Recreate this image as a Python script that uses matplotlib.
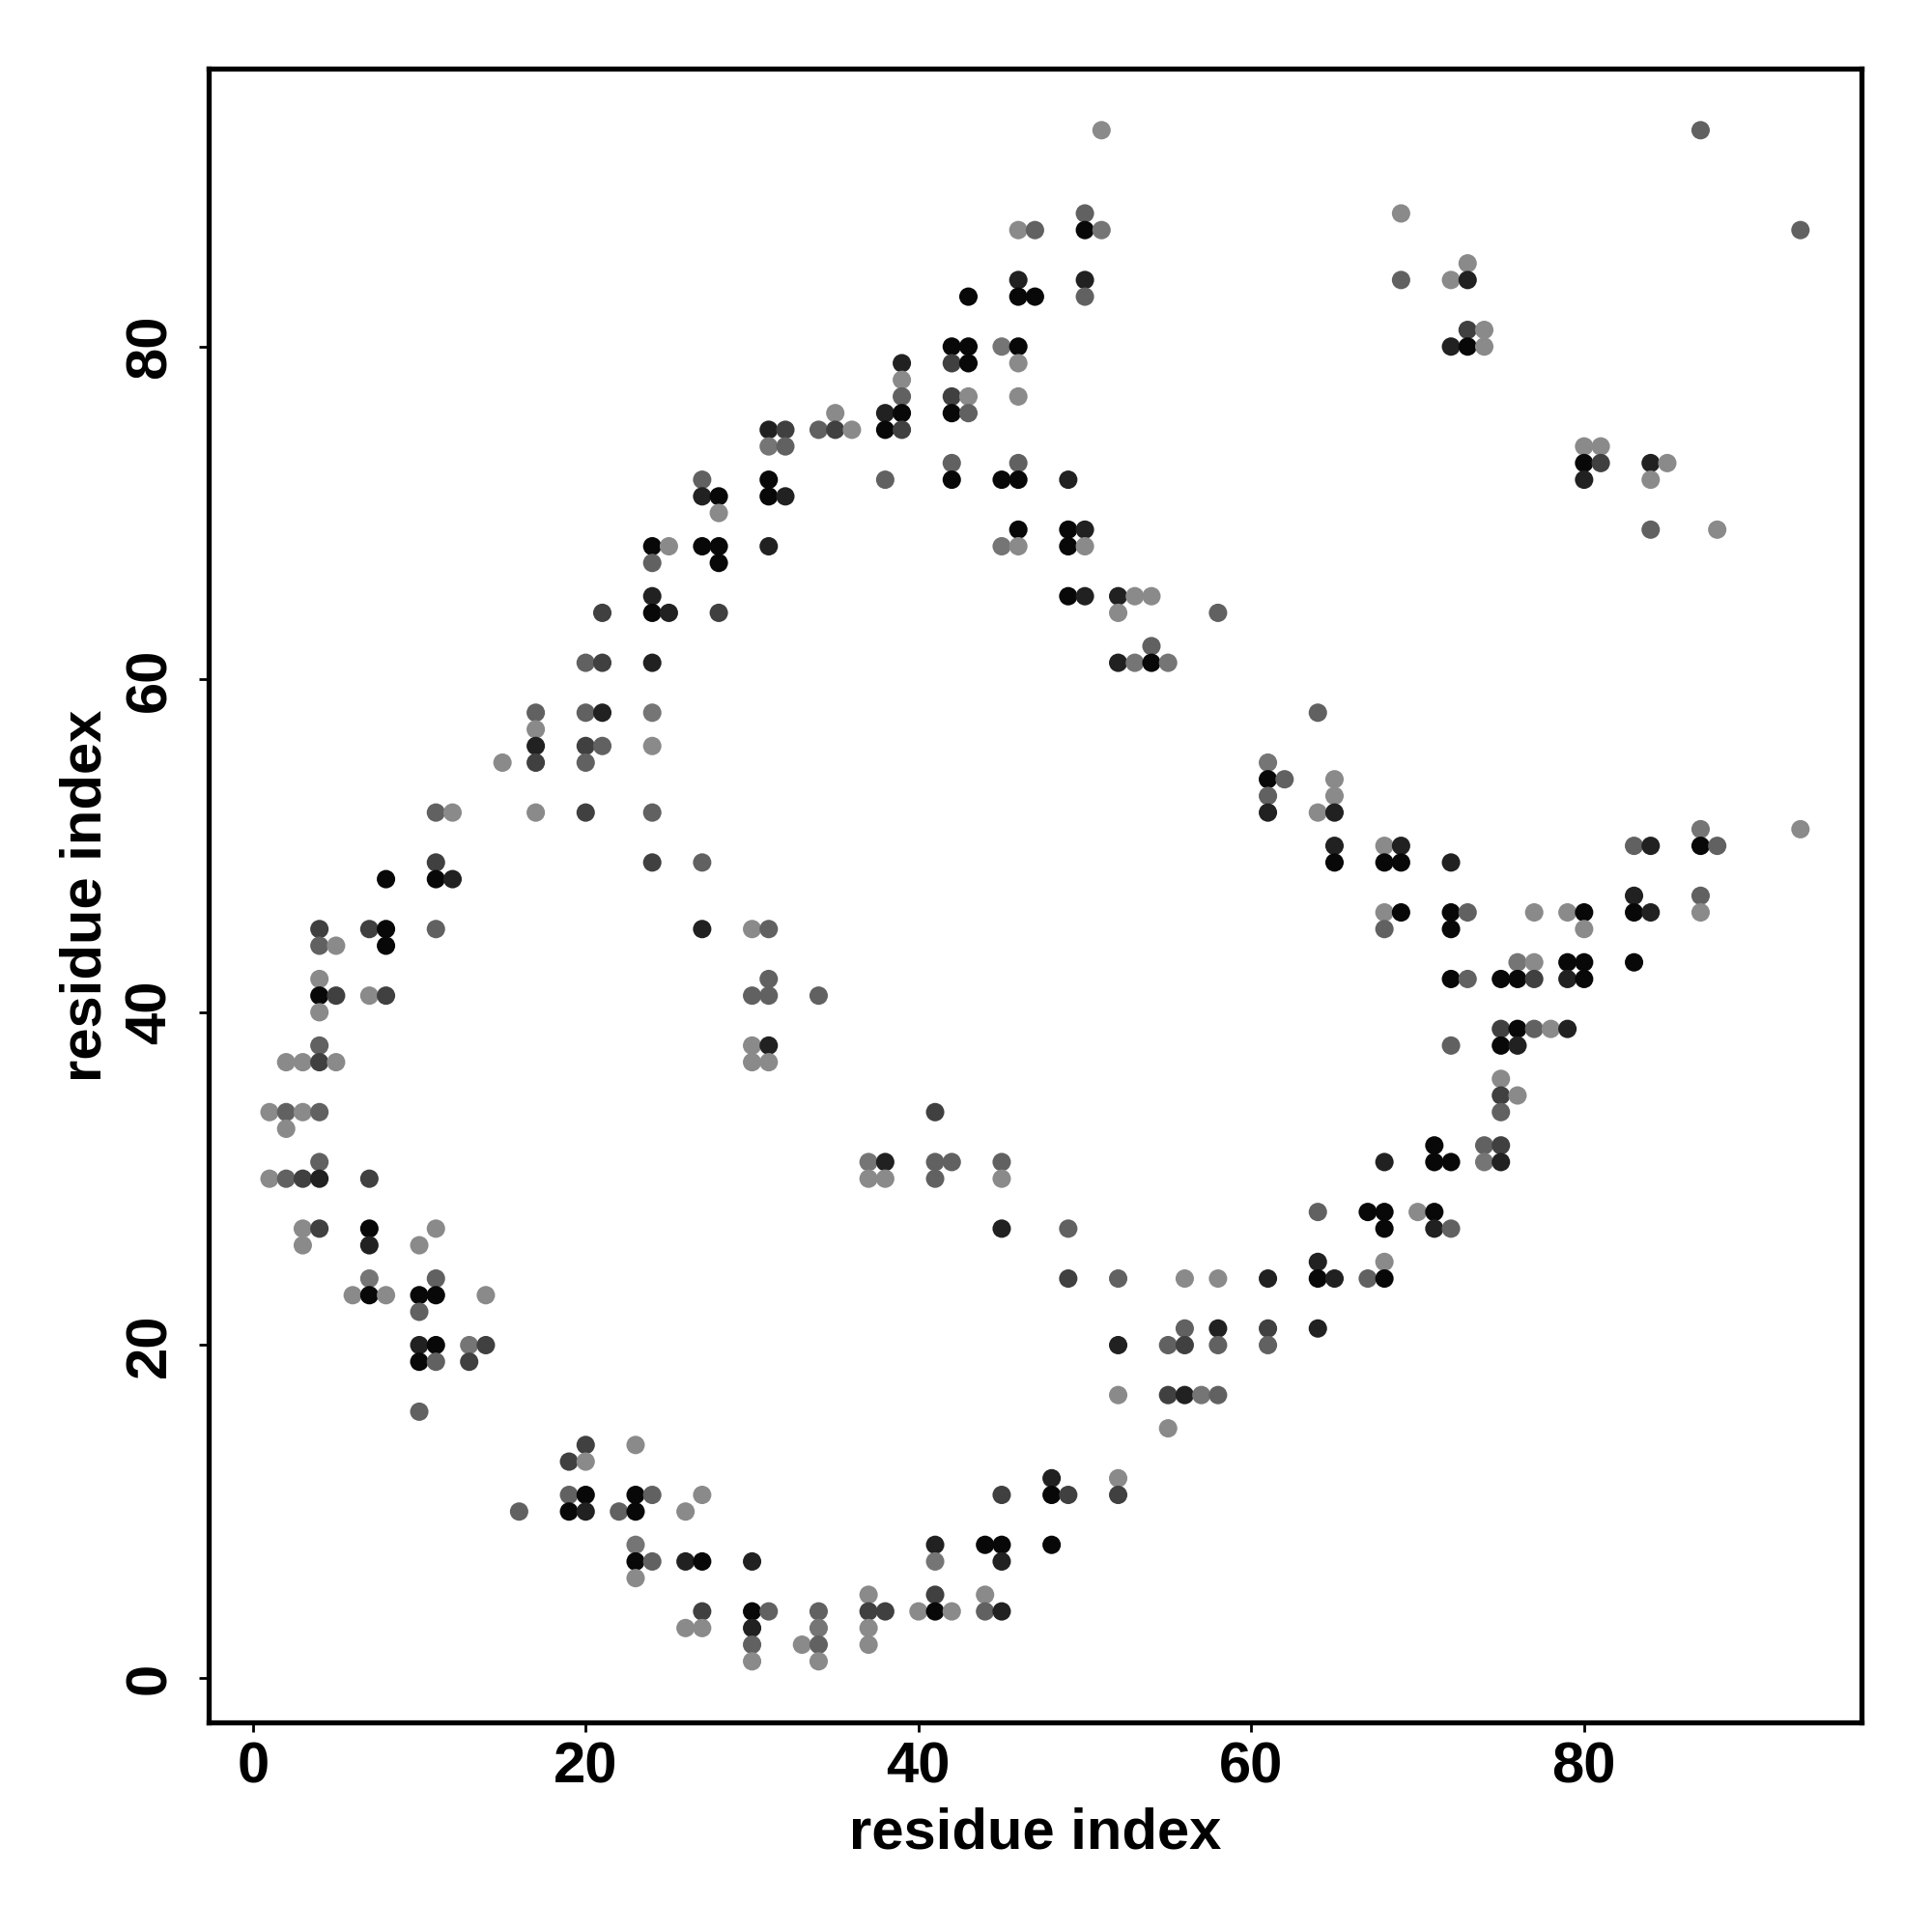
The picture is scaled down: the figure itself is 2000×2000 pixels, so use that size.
import matplotlib
matplotlib.use("Agg")
import matplotlib.pyplot as plt

# shade codes: grey level of each contact point (0 = black)
K, D, DM, M, ML, L = 0.03, 0.13, 0.25, 0.38, 0.46, 0.54

# contact points (residue i, residue j, grey level)
contacts = [
    (1, 34, L), (1, 30, L),
    (2, 37, L), (2, 34, M), (2, 33, L), (2, 30, M),
    (3, 37, L), (3, 34, L), (3, 30, DM), (3, 27, L), (3, 26, L),
    (4, 45, DM), (4, 44, M), (4, 42, L), (4, 41, K), (4, 40, L), (4, 38, M), (4, 37, DM),
    (4, 34, M), (4, 31, M), (4, 30, D), (4, 27, DM),
    (5, 44, L), (5, 41, DM), (5, 37, L),
    (6, 23, L),
    (7, 45, DM), (7, 41, L), (7, 30, DM), (7, 27, K), (7, 26, D), (7, 24, ML), (7, 23, K),
    (8, 48, K), (8, 45, K), (8, 44, K), (8, 41, DM), (8, 23, L),
    (10, 26, L), (10, 23, K), (10, 22, M), (10, 20, D), (10, 19, K), (10, 16, M),
    (11, 52, M), (11, 49, DM), (11, 48, K), (11, 45, M), (11, 27, L), (11, 24, M),
    (11, 23, K), (11, 20, K), (11, 19, M),
    (12, 52, L), (12, 48, D),
    (13, 20, ML), (13, 19, DM),
    (14, 23, L), (14, 20, DM),
    (15, 55, L),
    (16, 10, M),
    (17, 58, M), (17, 57, L), (17, 56, D), (17, 55, DM), (17, 52, L),
    (19, 13, DM), (19, 11, M), (19, 10, K),
    (20, 61, M), (20, 58, M), (20, 56, DM), (20, 55, M), (20, 52, DM), (20, 14, DM),
    (20, 13, L), (20, 11, K), (20, 10, D),
    (21, 64, DM), (21, 61, DM), (21, 58, D), (21, 56, M),
    (22, 10, M),
    (23, 14, L), (23, 11, K), (23, 10, K), (23, 8, ML), (23, 7, K), (23, 6, L),
    (24, 68, K), (24, 67, M), (24, 65, D), (24, 64, K), (24, 61, D), (24, 58, ML),
    (24, 56, L), (24, 52, M), (24, 49, DM), (24, 11, M), (24, 7, M),
    (25, 68, L), (25, 64, D),
    (26, 10, L), (26, 7, D), (26, 3, L),
    (27, 72, M), (27, 71, D), (27, 68, K), (27, 49, M), (27, 45, D), (27, 11, L),
    (27, 7, K), (27, 4, DM), (27, 3, L),
    (28, 71, K), (28, 70, L), (28, 68, K), (28, 67, K), (28, 64, DM),
    (30, 45, L), (30, 41, M), (30, 38, L), (30, 37, L), (30, 7, D), (30, 4, K),
    (30, 3, D), (30, 2, M), (30, 1, L),
    (31, 75, D), (31, 74, ML), (31, 72, K), (31, 71, K), (31, 68, D), (31, 45, M),
    (31, 42, M), (31, 41, M), (31, 38, D), (31, 37, L), (31, 4, M),
    (32, 75, DM), (32, 74, M), (32, 71, D),
    (33, 2, L),
    (34, 75, M), (34, 41, M), (34, 4, M), (34, 3, ML), (34, 2, M), (34, 1, L),
    (35, 76, L), (35, 75, DM),
    (36, 75, L),
    (37, 31, ML), (37, 30, L), (37, 5, L), (37, 4, DM), (37, 3, L), (37, 2, L),
    (38, 76, D), (38, 75, K), (38, 72, M), (38, 31, D), (38, 30, L), (38, 4, DM),
    (39, 79, D), (39, 78, L), (39, 77, M), (39, 76, K), (39, 75, DM),
    (40, 4, L),
    (41, 34, DM), (41, 31, M), (41, 30, M), (41, 8, D), (41, 7, ML), (41, 5, DM), (41, 4, K),
    (42, 80, K), (42, 79, DM), (42, 77, DM), (42, 76, K), (42, 73, M), (42, 72, K),
    (42, 31, M), (42, 4, L),
    (43, 83, K), (43, 80, K), (43, 79, K), (43, 77, L), (43, 76, M),
    (44, 8, K), (44, 5, L), (44, 4, M),
    (45, 80, ML), (45, 72, K), (45, 68, ML), (45, 31, M), (45, 30, L), (45, 27, D),
    (45, 11, DM), (45, 8, K), (45, 7, D), (45, 4, D),
    (46, 87, L), (46, 84, D), (46, 83, K), (46, 80, K), (46, 79, L), (46, 77, L),
    (46, 73, M), (46, 72, K), (46, 69, K), (46, 68, L),
    (47, 87, M), (47, 83, K),
    (48, 12, D), (48, 11, K), (48, 8, K),
    (49, 72, D), (49, 69, K), (49, 68, K), (49, 65, K), (49, 27, M), (49, 24, DM), (49, 11, DM),
    (50, 88, M), (50, 87, K), (50, 84, D), (50, 83, M), (50, 69, D), (50, 68, L), (50, 65, D),
    (51, 93, L), (51, 87, ML),
    (52, 65, D), (52, 64, L), (52, 61, D), (52, 24, M), (52, 20, D), (52, 17, L),
    (52, 12, L), (52, 11, DM),
    (53, 65, L), (53, 61, ML),
    (54, 65, L), (54, 62, M), (54, 61, K),
    (55, 61, ML), (55, 20, M), (55, 17, DM), (55, 15, L),
    (56, 24, L), (56, 21, M), (56, 20, DM), (56, 17, D),
    (57, 17, ML),
    (58, 64, M), (58, 24, L), (58, 21, D), (58, 20, M), (58, 17, M),
    (61, 55, ML), (61, 54, K), (61, 53, M), (61, 52, D), (61, 24, D), (61, 21, DM), (61, 20, M),
    (62, 54, M),
    (64, 58, M), (64, 52, L), (64, 28, M), (64, 25, D), (64, 24, K), (64, 21, D),
    (65, 54, L), (65, 53, L), (65, 52, D), (65, 50, D), (65, 49, K), (65, 24, D),
    (67, 28, K), (67, 24, M),
    (68, 50, L), (68, 49, K), (68, 46, L), (68, 45, M), (68, 31, D), (68, 28, K),
    (68, 27, K), (68, 25, L), (68, 24, K),
    (69, 88, L), (69, 84, M), (69, 50, D), (69, 49, K), (69, 46, K),
    (70, 28, L),
    (71, 32, K), (71, 31, K), (71, 28, K), (71, 27, D),
    (72, 84, L), (72, 80, D), (72, 49, D), (72, 46, K), (72, 45, K), (72, 42, K),
    (72, 38, M), (72, 31, K), (72, 27, M),
    (73, 85, L), (73, 84, D), (73, 81, DM), (73, 80, K), (73, 46, M), (73, 42, M),
    (74, 81, L), (74, 80, L), (74, 32, M), (74, 31, ML),
    (75, 42, K), (75, 39, DM), (75, 38, K), (75, 36, L), (75, 35, DM), (75, 34, M),
    (75, 32, DM), (75, 31, D),
    (76, 43, ML), (76, 42, K), (76, 39, K), (76, 38, D), (76, 35, L),
    (77, 46, L), (77, 43, L), (77, 42, DM), (77, 39, M),
    (78, 39, L),
    (79, 46, L), (79, 43, K), (79, 42, D), (79, 39, D),
    (80, 74, L), (80, 73, K), (80, 72, D), (80, 46, K), (80, 45, L), (80, 43, K), (80, 42, K),
    (81, 74, L), (81, 73, DM),
    (83, 50, M), (83, 47, D), (83, 46, K), (83, 43, K),
    (84, 73, D), (84, 72, L), (84, 69, M), (84, 50, D), (84, 46, D),
    (85, 73, L),
    (87, 93, M), (87, 51, ML), (87, 50, K), (87, 47, M), (87, 46, L),
    (88, 69, L), (88, 50, M),
    (93, 87, M), (93, 51, L),
]

res_i = [c[0] for c in contacts]
res_j = [c[1] for c in contacts]
grey = [c[2] for c in contacts]

ticks = [0, 20, 40, 60, 80]
tick_labels = ["0", "20", "40", "60", "80"]
xlabel = "residue index"
ylabel = "residue index"

plt.rcParams['font.family'] = ['Liberation Sans', 'DejaVu Sans']
plt.rcParams['font.weight'] = 'bold'

fig = plt.figure(figsize=(10, 10), dpi=200)
ax = fig.add_axes([0.1078, 0.1084, 0.9636 - 0.1078, 0.9643 - 0.1084])

colors = [(g, g, g) for g in grey]
ax.scatter(res_i, res_j, s=47, c=colors, edgecolors='none', zorder=3)

lo = min(min(res_i), min(res_j))
hi = max(max(res_i), max(res_j))
pad = 0.04 * (hi - lo)
ax.set_xlim(lo - pad, hi + pad)
ax.set_ylim(lo - pad, hi + pad)

ax.set_xticks(ticks)
ax.set_xticklabels(tick_labels, fontsize=21.5, fontweight='bold')
ax.set_yticks(ticks)
ax.set_yticklabels(tick_labels, fontsize=21.5, fontweight='bold', rotation=90, va='center')
ax.tick_params(axis='both', direction='out', length=3.6, width=1.0, color='black')
ax.tick_params(axis='x', pad=3.2)
ax.tick_params(axis='y', pad=8)
for sp in ax.spines.values():
    sp.set_linewidth(1.9)
    sp.set_color('black')

fig.text(0.5357, 0.0434, xlabel, ha='center', va='baseline', fontsize=21.5, fontweight='bold')
fig.text(0.0523, 0.5364, ylabel, ha='center', va='baseline', rotation=90,
         rotation_mode='anchor', fontsize=21.5, fontweight='bold')

fig.savefig("out.png", dpi=200, facecolor='white')
